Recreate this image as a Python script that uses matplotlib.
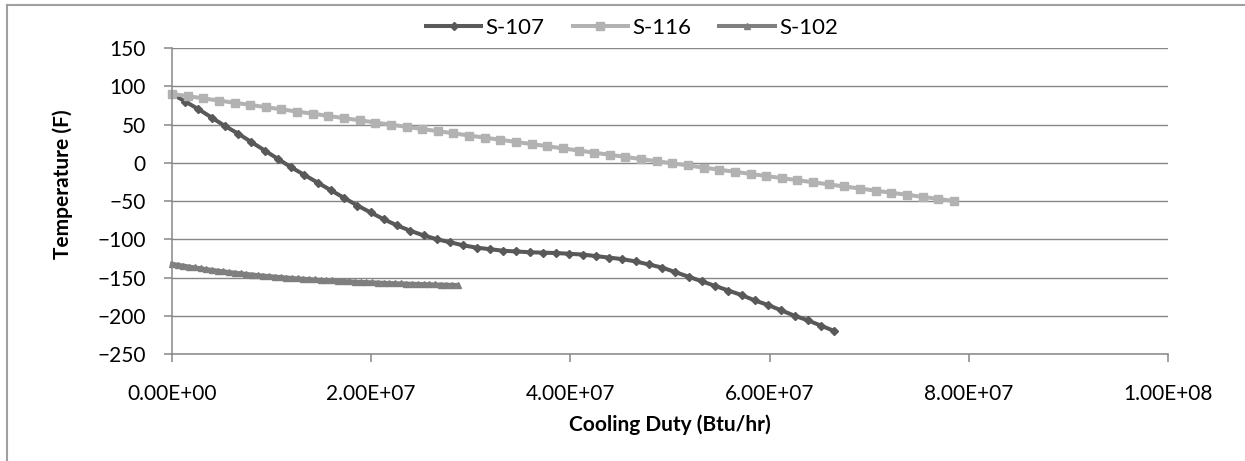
import matplotlib
matplotlib.use("Agg")
import matplotlib.pyplot as plt
import numpy as np
from matplotlib.lines import Line2D
from matplotlib.ticker import FuncFormatter, MultipleLocator

plt.rcParams['font.family'] = ['Lato', 'DejaVu Sans']

# cooling curves, duty in MMBtu/hr and temperature in F
duty_107 = [0.00, 1.33, 2.66, 3.99, 5.32, 6.65, 7.98, 9.31, 10.64, 11.97,
            13.30, 14.63, 15.96, 17.29, 18.62, 19.95, 21.28, 22.61, 23.94, 25.27,
            26.60, 27.93, 29.26, 30.59, 31.92, 33.25, 34.58, 35.91, 37.24, 38.57,
            39.90, 41.23, 42.56, 43.89, 45.22, 46.55, 47.88, 49.21, 50.54, 51.87,
            53.20, 54.53, 55.86, 57.19, 58.52, 59.85, 61.18, 62.51, 63.84, 65.17,
            66.50]
temp_107 = [90, 80, 70, 59, 48, 38, 27, 16, 5, -6,
            -16, -26, -36, -46, -56, -65, -74, -82, -89, -95,
            -100, -104, -108, -111, -113, -115, -116, -117, -117.5, -118,
            -119, -120, -122, -124, -126, -129, -133, -137, -143, -149,
            -155, -161, -167, -173, -180, -186, -193, -200, -206, -213,
            -220]

duty_116 = [0.00, 1.57, 3.14, 4.71, 6.28, 7.85, 9.42, 10.99, 12.56, 14.13,
            15.70, 17.27, 18.84, 20.41, 21.98, 23.55, 25.12, 26.69, 28.26, 29.83,
            31.40, 32.97, 34.54, 36.11, 37.68, 39.25, 40.82, 42.39, 43.96, 45.53,
            47.10, 48.67, 50.24, 51.81, 53.38, 54.95, 56.52, 58.09, 59.66, 61.23,
            62.80, 64.37, 65.94, 67.51, 69.08, 70.65, 72.22, 73.79, 75.36, 76.93,
            78.50]
temp_116 = [90.0, 87.1, 84.2, 81.3, 78.4, 75.6, 72.7, 69.8, 66.9, 64.1,
            61.2, 58.3, 55.5, 52.6, 49.8, 46.9, 44.1, 41.3, 38.5, 35.6,
            32.8, 30.0, 27.2, 24.4, 21.6, 18.8, 16.0, 13.2, 10.4, 7.6,
            4.8, 2.0, -0.8, -3.5, -6.3, -9.1, -11.8, -14.6, -17.3, -20.1,
            -22.8, -25.5, -28.3, -31.0, -33.7, -36.5, -39.2, -41.9, -44.6, -47.3,
            -50.0]

duty_102 = [0.00, 0.57, 1.15, 1.72, 2.30, 2.87, 3.44, 4.02, 4.59, 5.17,
            5.74, 6.31, 6.89, 7.46, 8.04, 8.61, 9.18, 9.76, 10.33, 10.91,
            11.48, 12.05, 12.63, 13.20, 13.78, 14.35, 14.92, 15.50, 16.07, 16.65,
            17.22, 17.79, 18.37, 18.94, 19.52, 20.09, 20.66, 21.24, 21.81, 22.39,
            22.96, 23.53, 24.11, 24.68, 25.26, 25.83, 26.40, 26.98, 27.55, 28.13,
            28.70]
temp_102 = [-132.0, -133.3, -134.5, -135.7, -136.8, -137.9, -139.0, -140.0, -141.0, -141.9,
            -142.8, -143.7, -144.5, -145.3, -146.1, -146.8, -147.5, -148.2, -148.8, -149.4,
            -150.0, -150.6, -151.1, -151.6, -152.1, -152.6, -153.0, -153.5, -153.9, -154.3,
            -154.7, -155.0, -155.4, -155.7, -156.0, -156.3, -156.6, -156.9, -157.2, -157.4,
            -157.7, -157.9, -158.2, -158.4, -158.6, -158.8, -159.0, -159.2, -159.4, -159.6,
            -159.8]

series = [("S-107", duty_107, temp_107, "#595959", "D", 4.0),
          ("S-116", duty_116, temp_116, "#b2b2b2", "s", 5.5),
          ("S-102", duty_102, temp_102, "#7f7f7f", "^", 5.0)]

grid_col = "#878787"
W, H = 1245, 461

fig = plt.figure(figsize=(W / 100, H / 100), dpi=100)
ax = fig.add_axes([172/W, 1 - 354/H, (1168 - 172)/W, (354 - 48)/H])

for name, x, y, col, mk, ms in series:
    ax.plot(np.array(x) * 1e6, y, color=col, lw=2.9, marker=mk, ms=ms,
            mec=col, mfc=col, label=name, clip_on=False)

ax.set_xlim(0, 1e8)
ax.set_ylim(-250, 150)
ax.xaxis.set_major_locator(MultipleLocator(2e7))
ax.yaxis.set_major_locator(MultipleLocator(50))
ax.xaxis.set_major_formatter(FuncFormatter(lambda v, p: "%.2E" % v))

ax.grid(axis='y', color=grid_col, lw=1.0)
ax.set_axisbelow(True)
for s in ['top', 'right']:
    ax.spines[s].set_visible(False)
for s in ['left', 'bottom']:
    ax.spines[s].set_color(grid_col)
    ax.spines[s].set_linewidth(1.1)
ax.tick_params(axis='both', direction='out', length=5.8, width=1.1, color=grid_col,
               labelsize=15, labelcolor='black')
ax.tick_params(axis='y', pad=13)
ax.tick_params(axis='x', pad=16)

# axis titles placed by pixel centre
fig.text(670/W, 1 - 425/H, "Cooling Duty (Btu/hr)", fontsize=15, fontweight='bold',
         ha='center', va='center')
fig.text(63/W, 1 - 184/H, "Temperature (F)", fontsize=15, fontweight='bold',
         ha='center', va='center', rotation=90)

fig.legend(loc='center', bbox_to_anchor=(632/W, 1 - 28/H), ncol=3, frameon=False,
           fontsize=16, handlelength=2.5, columnspacing=1.25, handletextpad=0.2,
           borderaxespad=0, borderpad=0)

# outer chart border
fig.add_artist(Line2D([7/W, 7/W], [0, 1 - 5/H], color="#a0a0a0", lw=1.5))
fig.add_artist(Line2D([7/W, 1], [1 - 5/H, 1 - 5/H], color="#a0a0a0", lw=1.5))

fig.savefig("out.png", dpi=100)
